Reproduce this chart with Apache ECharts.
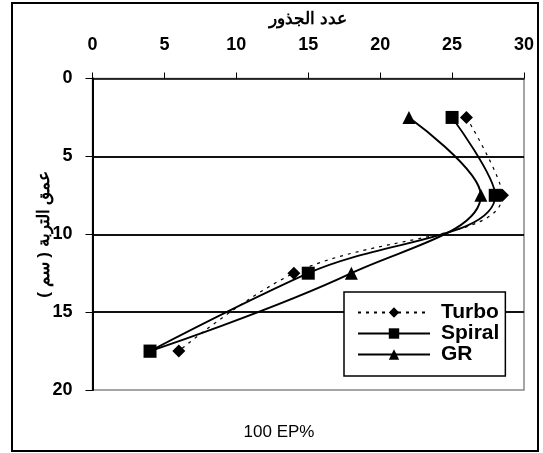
<!DOCTYPE html>
<html>
<head>
<meta charset="utf-8">
<script src="https://cdn.jsdelivr.net/npm/echarts@6/dist/echarts.min.js"></script>
<style>
  html, body { margin: 0; padding: 0; background: #fff; }
  #chart { width: 543px; height: 453px; }
</style>
</head>
<body>
<div id="chart"></div>
<script>
// Soil depth (cm) of each sampling layer
const depths = [2.5, 7.5, 12.5, 17.5];
// Root counts per layer for each tillage tool
const turbo = [26, 28.5, 14, 6];
const spiral = [25, 28, 15, 4];
const gr = [22, 27, 18, 4];

const xTicks = [0, 5, 10, 15, 20, 25, 30];
const yTicks = [0, 5, 10, 15, 20];

const xTitle = 'عدد الجذور';
const yTitle = 'عمق التربة ( سم )';
const footNote = '100 EP%';

const font = '"Liberation Sans", Arial, sans-serif';

function pairs(xs) {
  return xs.map((x, i) => [x, depths[i]]);
}

const chart = echarts.init(document.getElementById('chart'), null, { renderer: 'canvas' });

chart.setOption({
  animation: false,
  backgroundColor: '#fff',
  grid: {
    left: 92.5, top: 78.5, right: 19, bottom: 63,
    show: true, borderColor: '#888', borderWidth: 1.5, backgroundColor: 'transparent'
  },
  title: {
    text: footNote,
    left: 274, top: 419, textAlign: 'center',
    textStyle: { fontFamily: font, fontWeight: 'normal', fontSize: 17, color: '#000' }
  },
  xAxis: {
    type: 'value', position: 'top',
    min: xTicks[0], max: xTicks[xTicks.length - 1], interval: 5,
    name: xTitle, nameLocation: 'middle', nameGap: 51, nameMoveOverlap: false,
    nameTextStyle: { fontFamily: font, fontWeight: 'bold', fontSize: 17, color: '#000' },
    axisLine: { show: true, lineStyle: { color: '#000', width: 1.5 } },
    axisTick: { show: true, inside: false, length: 6, lineStyle: { color: '#000', width: 1 } },
    axisLabel: { margin: 24, fontFamily: font, fontWeight: 'bold', fontSize: 18, color: '#000' },
    splitLine: { show: false }
  },
  yAxis: {
    type: 'value', inverse: true,
    min: yTicks[0], max: yTicks[yTicks.length - 1], interval: 5,
    name: yTitle, nameLocation: 'middle', nameGap: 40, nameRotate: 90, nameMoveOverlap: false,
    nameTextStyle: { fontFamily: font, fontWeight: 'bold', fontSize: 17, color: '#000' },
    axisLine: { show: true, lineStyle: { color: '#000', width: 2 } },
    axisTick: { show: true, inside: false, length: 7, lineStyle: { color: '#000', width: 1 } },
    axisLabel: { margin: 20, fontFamily: font, fontWeight: 'bold', fontSize: 18, color: '#000' },
    splitLine: {
      show: true, showMinLine: false, showMaxLine: false,
      lineStyle: { color: '#111', width: 2 }
    }
  },
  legend: {
    orient: 'vertical',
    left: 344, top: 292,
    padding: [10, 6, 11, 13],
    itemGap: 0,
    itemWidth: 72, itemHeight: 13,
    backgroundColor: '#fff', borderColor: '#000', borderWidth: 1.5,
    textStyle: { fontFamily: font, fontWeight: 'bold', fontSize: 21, color: '#000', padding: [0, 0, 0, 6] },
    data: ['Turbo', 'Spiral', 'GR']
  },
  series: [
    {
      name: 'Turbo', type: 'line', smooth: 0.4,
      data: pairs(turbo),
      symbol: 'diamond', symbolSize: 13,
      lineStyle: { color: '#000', width: 1.2, type: [3, 5] },
      itemStyle: { color: '#000' }
    },
    {
      name: 'Spiral', type: 'line', smooth: 0.4,
      data: pairs(spiral),
      symbol: 'rect', symbolSize: 13,
      lineStyle: { color: '#000', width: 1.8, type: 'solid' },
      itemStyle: { color: '#000' }
    },
    {
      name: 'GR', type: 'line', smooth: 0.4,
      data: pairs(gr),
      symbol: 'triangle', symbolSize: 13,
      lineStyle: { color: '#000', width: 2, type: 'solid' },
      itemStyle: { color: '#000' }
    }
  ],
  graphic: [
    {
      type: 'rect', silent: true, z: 100,
      shape: { x: 12, y: 3, width: 526, height: 448 },
      style: { fill: 'none', stroke: '#000', lineWidth: 2 }
    }
  ]
});
</script>
</body>
</html>
